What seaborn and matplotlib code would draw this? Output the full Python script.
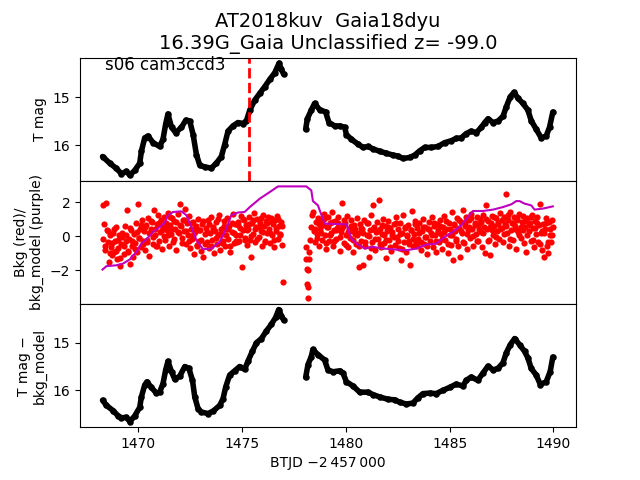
import pandas as pd
import matplotlib
matplotlib.use('Agg')
import matplotlib.pyplot as plt
import seaborn as sns
import numpy as np

# T mag light curve (top panel), two orbits
top_t1 = [1468.29, 1468.64, 1468.96, 1469.20, 1469.44, 1469.60, 1469.84, 1470.08, 1470.16, 1470.32,
          1470.48, 1470.72, 1471.04, 1471.20, 1471.33, 1471.44, 1471.61, 1471.81, 1472.09, 1472.30,
          1472.49, 1472.65, 1472.81, 1472.97, 1473.21, 1473.53, 1473.77, 1474.01, 1474.17, 1474.33,
          1474.57, 1474.81, 1475.05, 1475.22, 1475.38, 1475.62, 1475.86, 1476.10, 1476.34, 1476.58,
          1476.79, 1476.90, 1477.01]
top_m1 = [16.24, 16.38, 16.49, 16.60, 16.55, 16.63, 16.53, 16.38, 16.13, 15.85,
          15.81, 15.95, 16.03, 15.88, 15.56, 15.35, 15.63, 15.74, 15.63, 15.48,
          15.50, 15.78, 16.20, 16.42, 16.46, 16.48, 16.38, 16.24, 15.99, 15.71,
          15.60, 15.53, 15.55, 15.49, 15.27, 15.06, 14.92, 14.78, 14.63, 14.49,
          14.29, 14.42, 14.52]
top_t2 = [1478.07, 1478.15, 1478.34, 1478.50, 1478.74, 1479.03, 1479.19, 1479.47, 1479.71, 1479.95,
          1480.03, 1480.27, 1480.59, 1480.83, 1481.07, 1481.31, 1481.63, 1481.95, 1482.27, 1482.51,
          1482.75, 1483.08, 1483.32, 1483.56, 1483.80, 1484.12, 1484.44, 1484.76, 1485.08, 1485.32,
          1485.56, 1485.80, 1486.04, 1486.28, 1486.53, 1486.69, 1486.85, 1487.09, 1487.33, 1487.57,
          1487.73, 1487.92, 1488.10, 1488.29, 1488.53, 1488.77, 1488.93, 1489.17, 1489.41, 1489.65,
          1489.81, 1489.97]
top_m2 = [15.67, 15.45, 15.27, 15.13, 15.26, 15.31, 15.53, 15.60, 15.60, 15.63,
          15.78, 15.88, 15.98, 16.05, 16.03, 16.08, 16.13, 16.17, 16.21, 16.23,
          16.28, 16.26, 16.21, 16.12, 16.05, 16.05, 16.03, 15.95, 15.91, 15.86,
          15.85, 15.76, 15.71, 15.74, 15.63, 15.53, 15.45, 15.53, 15.50, 15.40,
          15.20, 14.99, 14.90, 15.02, 15.13, 15.27, 15.49, 15.67, 15.85, 15.81,
          15.63, 15.31]

# T mag - bkg_model (bottom panel)
bot_t1 = [1468.29, 1468.48, 1468.80, 1469.04, 1469.20, 1469.44, 1469.60, 1469.84, 1470.08, 1470.16,
          1470.32, 1470.43, 1470.64, 1470.88, 1471.04, 1471.20, 1471.33, 1471.44, 1471.61, 1471.77,
          1472.01, 1472.25, 1472.45, 1472.62, 1472.73, 1472.89, 1473.05, 1473.37, 1473.61, 1473.93,
          1474.09, 1474.22, 1474.41, 1474.65, 1474.89, 1475.13, 1475.29, 1475.50, 1475.70, 1475.94,
          1476.18, 1476.42, 1476.63, 1476.77, 1476.90, 1477.01]
bot_m1 = [16.21, 16.32, 16.43, 16.54, 16.58, 16.57, 16.66, 16.54, 16.36, 16.14,
          15.89, 15.82, 15.94, 16.06, 16.04, 15.86, 15.57, 15.39, 15.61, 15.77,
          15.70, 15.50, 15.54, 15.79, 16.14, 16.39, 16.46, 16.49, 16.44, 16.32,
          16.18, 15.93, 15.68, 15.59, 15.50, 15.56, 15.39, 15.18, 15.00, 14.91,
          14.75, 14.61, 14.46, 14.30, 14.43, 14.52]
bot_t2 = [1478.07, 1478.18, 1478.34, 1478.42, 1478.66, 1478.98, 1479.14, 1479.38, 1479.71, 1479.87,
          1480.03, 1480.35, 1480.67, 1481.07, 1481.31, 1481.63, 1482.03, 1482.35, 1482.59, 1482.92,
          1483.23, 1483.47, 1483.72, 1484.04, 1484.36, 1484.68, 1485.00, 1485.32, 1485.64, 1485.80,
          1486.04, 1486.36, 1486.60, 1486.85, 1487.09, 1487.33, 1487.57, 1487.73, 1487.92, 1488.13,
          1488.37, 1488.61, 1488.77, 1488.93, 1489.17, 1489.37, 1489.65, 1489.84, 1489.97]
bot_m2 = [15.73, 15.46, 15.29, 15.14, 15.25, 15.36, 15.57, 15.61, 15.59, 15.64,
          15.82, 15.91, 16.04, 16.04, 16.09, 16.14, 16.19, 16.20, 16.25, 16.29,
          16.27, 16.16, 16.07, 16.06, 16.07, 16.00, 15.94, 15.87, 15.91, 15.79,
          15.72, 15.79, 15.64, 15.49, 15.57, 15.54, 15.42, 15.21, 15.04, 14.91,
          15.04, 15.18, 15.32, 15.54, 15.68, 15.88, 15.82, 15.61, 15.30]

# background model (purple line)
model_t = [1468.29, 1468.48, 1468.96, 1469.28, 1469.60, 1469.92, 1470.16, 1470.40, 1470.72, 1471.04,
           1471.28, 1471.44, 1471.68, 1472.09, 1472.33, 1472.57, 1472.81, 1473.13, 1473.53, 1473.93,
           1474.25, 1474.49, 1474.81, 1475.13, 1475.38, 1475.86, 1476.34, 1476.74, 1478.10, 1478.34,
           1478.42, 1478.66, 1478.98, 1480.03, 1480.27, 1480.51, 1480.91, 1481.31, 1481.79, 1482.43,
           1482.92, 1483.40, 1483.88, 1484.36, 1484.76, 1485.16, 1485.56, 1485.88, 1486.12, 1486.60,
           1487.09, 1487.57, 1487.97, 1488.21, 1488.37, 1488.61, 1488.93, 1489.09, 1489.49, 1489.97]
model_v = [-1.95, -1.75, -1.70, -1.60, -1.36, -0.92, -0.43, -0.19, 0.25, 0.54,
           0.78, 1.23, 1.42, 1.46, 1.23, 0.54, -0.23, -0.76, -0.72, -0.33,
           0.45, 1.23, 1.39, 1.42, 1.71, 2.20, 2.59, 2.92, 2.92, 2.69,
           2.06, 1.81, 0.74, 0.70, -0.13, -0.43, -0.72, -0.62, -0.72, -0.78,
           -0.82, -0.72, -0.49, -0.43, -0.04, 0.25, 0.64, 1.13, 1.48, 1.48,
           1.56, 1.71, 1.87, 2.06, 2.06, 1.91, 1.81, 1.56, 1.62, 1.75]

# background flux (red points)
bkg_t = [
    1468.30, 1468.35, 1468.40, 1468.45, 1468.50, 1468.55, 1468.60, 1468.65, 1468.70, 1468.75,
    1468.80, 1468.85, 1468.90, 1468.95, 1469.00, 1469.05, 1469.10, 1469.15, 1469.20, 1469.25,
    1469.30, 1469.35, 1469.40, 1469.45, 1469.50, 1469.55, 1469.60, 1469.65, 1469.70, 1469.75,
    1469.80, 1469.85, 1469.90, 1469.95, 1470.00, 1470.05, 1470.10, 1470.15, 1470.20, 1470.25,
    1470.30, 1470.35, 1470.40, 1470.45, 1470.50, 1470.55, 1470.60, 1470.65, 1470.70, 1470.75,
    1470.80, 1470.85, 1470.90, 1470.95, 1471.00, 1471.05, 1471.10, 1471.15, 1471.20, 1471.25,
    1471.30, 1471.35, 1471.40, 1471.45, 1471.50, 1471.55, 1471.60, 1471.65, 1471.70, 1471.75,
    1471.80, 1471.85, 1471.90, 1471.95, 1472.00, 1472.05, 1472.10, 1472.15, 1472.20, 1472.25,
    1472.30, 1472.35, 1472.40, 1472.45, 1472.50, 1472.55, 1472.60, 1472.65, 1472.70, 1472.75,
    1472.80, 1472.85, 1472.90, 1472.95, 1473.00, 1473.05, 1473.10, 1473.15, 1473.20, 1473.25,
    1473.30, 1473.35, 1473.40, 1473.45, 1473.50, 1473.55, 1473.60, 1473.65, 1473.70, 1473.75,
    1473.80, 1473.85, 1473.90, 1473.95, 1474.00, 1474.05, 1474.10, 1474.15, 1474.20, 1474.25,
    1474.30, 1474.35, 1474.40, 1474.45, 1474.50, 1474.55, 1474.60, 1474.65, 1474.70, 1474.75,
    1474.80, 1474.85, 1474.90, 1474.95, 1475.00, 1475.05, 1475.10, 1475.15, 1475.20, 1475.25,
    1475.30, 1475.35, 1475.40, 1475.45, 1475.50, 1475.55, 1475.60, 1475.65, 1475.70, 1475.75,
    1475.80, 1475.85, 1475.90, 1475.95, 1476.00, 1476.05, 1476.10, 1476.15, 1476.20, 1476.25,
    1476.30, 1476.35, 1476.40, 1476.45, 1476.50, 1476.55, 1476.60, 1476.65, 1476.70, 1476.75,
    1476.80, 1476.85, 1476.90, 1476.95, 1477.00,
    1478.08, 1478.10, 1478.12, 1478.14, 1478.16, 1478.18, 1478.20, 1478.22, 1478.24,
    1478.28, 1478.32, 1478.36, 1478.40, 1478.45,
    1478.50, 1478.55, 1478.60, 1478.65, 1478.70, 1478.75, 1478.80, 1478.85, 1478.90, 1478.95,
    1479.00, 1479.05, 1479.10, 1479.15, 1479.20, 1479.25, 1479.30, 1479.35, 1479.40, 1479.45,
    1479.50, 1479.55, 1479.60, 1479.65, 1479.70, 1479.75, 1479.80, 1479.85, 1479.90, 1479.95,
    1480.00, 1480.05, 1480.10, 1480.15, 1480.20, 1480.25, 1480.30, 1480.35, 1480.40, 1480.45,
    1480.50, 1480.55, 1480.60, 1480.65, 1480.70, 1480.75, 1480.80, 1480.85, 1480.90, 1480.95,
    1481.00, 1481.05, 1481.10, 1481.15, 1481.20, 1481.25, 1481.30, 1481.35, 1481.40, 1481.45,
    1481.50, 1481.55, 1481.60, 1481.65, 1481.70, 1481.75, 1481.80, 1481.85, 1481.90, 1481.95,
    1482.00, 1482.05, 1482.10, 1482.15, 1482.20, 1482.25, 1482.30, 1482.35, 1482.40, 1482.45,
    1482.50, 1482.55, 1482.60, 1482.65, 1482.70, 1482.75, 1482.80, 1482.85, 1482.90, 1482.95,
    1483.00, 1483.05, 1483.10, 1483.15, 1483.20, 1483.25, 1483.30, 1483.35, 1483.40, 1483.45,
    1483.50, 1483.55, 1483.60, 1483.65, 1483.70, 1483.75, 1483.80, 1483.85, 1483.90, 1483.95,
    1484.00, 1484.05, 1484.10, 1484.15, 1484.20, 1484.25, 1484.30, 1484.35, 1484.40, 1484.45,
    1484.50, 1484.55, 1484.60, 1484.65, 1484.70, 1484.75, 1484.80, 1484.85, 1484.90, 1484.95,
    1485.00, 1485.05, 1485.10, 1485.15, 1485.20, 1485.25, 1485.30, 1485.35, 1485.40, 1485.45,
    1485.50, 1485.55, 1485.60, 1485.65, 1485.70, 1485.75, 1485.80, 1485.85, 1485.90, 1485.95,
    1486.00, 1486.05, 1486.10, 1486.15, 1486.20, 1486.25, 1486.30, 1486.35, 1486.40, 1486.45,
    1486.50, 1486.55, 1486.60, 1486.65, 1486.70, 1486.75, 1486.80, 1486.85, 1486.90, 1486.95,
    1487.00, 1487.05, 1487.10, 1487.15, 1487.20, 1487.25, 1487.30, 1487.35, 1487.40, 1487.45,
    1487.50, 1487.55, 1487.60, 1487.65, 1487.70, 1487.75, 1487.80, 1487.85, 1487.90, 1487.95,
    1488.00, 1488.05, 1488.10, 1488.15, 1488.20, 1488.25, 1488.30, 1488.35, 1488.40, 1488.45,
    1488.50, 1488.55, 1488.60, 1488.65, 1488.70, 1488.75, 1488.80, 1488.85, 1488.90, 1488.95,
    1489.00, 1489.05, 1489.10, 1489.15, 1489.20, 1489.25, 1489.30, 1489.35, 1489.40, 1489.45,
    1489.50, 1489.55, 1489.60, 1489.65, 1489.70, 1489.75, 1489.80, 1489.85, 1489.90, 1489.95,
    1490.00]
bkg_v = [
    1.85, 0.72, -0.82, 1.92, 0.38, -0.35, -1.48, 0.05, -0.62, -1.10,
    0.21, -0.95, -0.28, 0.55, -1.35, -0.70, 0.10, -1.72, -0.45, -0.05,
    -1.05, 0.62, -0.30, 1.56, -0.85, -0.15, -1.62, 0.35, -0.55, -1.20,
    0.15, -0.40, 0.78, -0.90, 1.87, -0.10, 0.45, -0.65, 0.95, -0.25,
    0.30, -0.80, 0.65, -0.20, 1.05, -1.15, 0.40, 0.85, -0.45, 1.56,
    0.10, -0.60, 0.70, 1.23, -0.30, 0.25, 0.95, -0.75, 0.55, 1.10,
    -0.20, 0.80, 0.35, 1.35, -0.55, 0.65, 0.15, 1.05, -0.35, 0.90,
    0.45, -0.80, 1.30, 0.20, 1.87, 0.60, -0.10, 0.95, 0.30, 1.60,
    -0.45, 0.75, 0.10, 1.20, -0.70, 0.40, -0.15, 0.85, -1.05, 0.25,
    0.60, -0.50, 1.00, -0.25, 0.35, -0.85, 0.70, -1.20, 0.15, 0.50,
    -0.35, 0.95, -0.70, 0.20, 1.15, -0.20, 0.55, -1.00, 0.30, 0.85,
    -0.45, 0.05, 1.25, -0.80, 0.45, 0.15, -0.30, 0.90, -0.60, 0.40,
    1.05, -0.15, 0.60, -0.95, 0.25, 1.30, -0.40, 0.70, 0.10, -0.35,
    0.85, -0.25, 0.50, 1.20, -1.83, 0.35, 0.95, -0.10, 0.65, -0.50,
    0.40, 1.10, -0.20, -1.20, 0.75, 0.15, 1.35, -0.35, 0.55, 1.00,
    -0.05, 0.80, 0.30, -0.55, 1.25, 0.60, -0.25, 0.90, 0.20, 1.15,
    0.45, -0.40, 1.05, 0.10, 0.70, -0.65, 0.95, 0.30, 1.20, -0.15,
    0.60, 0.05, 0.85, -0.50, -2.70,
    -0.62, -1.36, -1.89, -2.77, -3.64, -2.96, -1.99, -1.36, -0.92,
    -0.23, 0.54, 1.23, 1.42, 0.30,
    -0.35, 0.85, 0.15, 1.05, -0.55, 0.40, 0.95, -0.20, 0.65, 1.30,
    0.05, -0.75, 0.55, 1.15, -0.30, 0.75, 0.20, 1.40, -0.60, 0.35,
    0.90, -0.15, 0.50, 1.10, -0.85, 0.25, 1.95, 0.60, -0.40, 0.80,
    0.10, 1.20, -0.65, 0.45, -0.10, 0.95, 0.30, -0.90, 0.65, 0.15,
    -0.45, 1.05, 0.20, -1.79, 0.70, -0.25, 0.40, -1.70, 0.95, -0.55,
    0.10, 0.75, -1.20, 0.35, 1.25, -0.35, 1.81, 0.55, -0.80, 0.25,
    0.85, -0.15, 2.14, 0.45, -0.65, 0.15, 1.00, -0.40, 0.60, -1.30,
    0.30, 0.90, -0.20, 0.50, -0.85, 0.05, 0.70, -0.50, 1.10, -0.05,
    0.40, -0.70, 0.80, -1.40, 0.20, 1.23, -0.35, 0.55, -0.90, 0.10,
    0.65, -0.25, -1.70, 0.35, 1.48, -0.60, 0.15, 0.90, -0.40, 0.50,
    -0.15, 0.75, -0.80, 0.30, 1.00, -0.45, 0.55, -0.05, -1.05, 0.45,
    0.85, -0.30, 0.20, 1.15, -0.65, 0.60, 0.05, -0.90, 0.70, 0.25,
    -0.35, 0.95, 0.15, -0.75, 0.55, 1.20, -0.20, 0.40, -1.00, 0.80,
    0.10, -0.50, 1.42, -1.40, 0.65, 0.30, -0.15, 1.05, -0.60, 0.50,
    -1.20, 0.85, 0.20, 1.56, -0.40, 0.60, 1.10, -0.75, 0.35, 0.95,
    -0.10, 1.30, 0.45, -0.55, 0.80, 0.15, 1.15, -0.30, 0.70, 1.00,
    0.25, -0.65, 1.25, 0.55, -0.98, 1.81, 0.40, 0.90, -0.20, -1.10,
    0.75, 1.20, 0.05, 0.60, -0.45, 1.05, 0.30, 0.85, -0.15, 1.35,
    0.50, -0.35, 1.10, 0.70, 2.50, 0.20, 0.95, -0.55, 1.40, 0.35,
    0.80, -0.20, 1.15, 0.60, -0.72, 0.95, 0.25, 1.30, 0.45, -0.10,
    0.85, 1.20, -0.40, 0.55, -0.90, 1.05, 0.30, 0.75, -0.25, 1.25,
    0.50, -0.65, 0.90, 0.15, 1.10, -0.35, 0.65, 1.91, 0.20, -0.80,
    0.70, -1.20, 0.40, 1.05, -0.55, -1.00, 0.85, 0.10, -0.33, 0.95,
    0.54]

# extra background cadences in between
bkg_t_extra = [
    1468.33, 1468.43, 1468.53, 1468.63, 1468.73, 1468.83, 1468.93, 1469.03, 1469.13, 1469.23,
    1469.33, 1469.43, 1469.53, 1469.63, 1469.73, 1469.83, 1469.93, 1470.03, 1470.13, 1470.23,
    1470.33, 1470.43, 1470.53, 1470.63, 1470.73, 1470.83, 1470.93, 1471.03, 1471.13, 1471.23,
    1471.33, 1471.43, 1471.53, 1471.63, 1471.73, 1471.83, 1471.93, 1472.03, 1472.13, 1472.23,
    1472.33, 1472.43, 1472.53, 1472.63, 1472.73, 1472.83, 1472.93, 1473.03, 1473.13, 1473.23,
    1473.33, 1473.43, 1473.53, 1473.63, 1473.73, 1473.83, 1473.93, 1474.03, 1474.13, 1474.23,
    1474.33, 1474.43, 1474.53, 1474.63, 1474.73, 1474.83, 1474.93, 1475.03, 1475.13, 1475.23,
    1475.33, 1475.43, 1475.53, 1475.63, 1475.73, 1475.83, 1475.93, 1476.03, 1476.13, 1476.23,
    1476.33, 1476.43, 1476.53, 1476.63, 1476.73, 1476.83, 1476.93,
    1478.53, 1478.63, 1478.73, 1478.83, 1478.93, 1479.03, 1479.13, 1479.23, 1479.33, 1479.43,
    1479.53, 1479.63, 1479.73, 1479.83, 1479.93, 1480.03, 1480.13, 1480.23, 1480.33, 1480.43,
    1480.53, 1480.63, 1480.73, 1480.83, 1480.93, 1481.03, 1481.13, 1481.23, 1481.33, 1481.43,
    1481.53, 1481.63, 1481.73, 1481.83, 1481.93, 1482.03, 1482.13, 1482.23, 1482.33, 1482.43,
    1482.53, 1482.63, 1482.73, 1482.83, 1482.93, 1483.03, 1483.13, 1483.23, 1483.33, 1483.43,
    1483.53, 1483.63, 1483.73, 1483.83, 1483.93, 1484.03, 1484.13, 1484.23, 1484.33, 1484.43,
    1484.53, 1484.63, 1484.73, 1484.83, 1484.93, 1485.03, 1485.13, 1485.23, 1485.33, 1485.43,
    1485.53, 1485.63, 1485.73, 1485.83, 1485.93, 1486.03, 1486.13, 1486.23, 1486.33, 1486.43,
    1486.53, 1486.63, 1486.73, 1486.83, 1486.93, 1487.03, 1487.13, 1487.23, 1487.33, 1487.43,
    1487.53, 1487.63, 1487.73, 1487.83, 1487.93, 1488.03, 1488.13, 1488.23, 1488.33, 1488.43,
    1488.53, 1488.63, 1488.73, 1488.83, 1488.93, 1489.03, 1489.13, 1489.23, 1489.33, 1489.43,
    1489.53, 1489.63, 1489.73, 1489.83, 1489.93]
bkg_v_extra = [
    -0.15, -0.60, 0.30, -1.00, -0.40, 0.45, -0.85, -0.20, -1.25, 0.20,
    -0.55, 0.05, -0.95, 0.50, -0.30, -0.75, 0.25, -0.10, 0.65, -0.45,
    0.55, -0.35, 0.20, 0.90, -0.05, 0.45, -0.55, 0.75, 0.35, 0.00,
    0.60, 0.10, 1.15, 0.40, -0.15, 0.85, 0.25, 0.65, -0.40, 0.95,
    0.30, -0.30, 0.80, 0.05, 0.50, -0.60, 0.35, -0.20, 0.90, -0.45,
    0.25, 0.70, -0.55, 0.40, -0.10, 1.00, 0.15, -0.40, 0.60, 0.05,
    0.45, -0.55, 0.80, 0.20, -0.30, 0.65, 0.05, 1.00, -0.20, 0.35,
    0.70, 0.00, 0.95, 0.40, -0.15, 0.55, 1.05, 0.25, -0.35, 0.75,
    0.20, 0.85, -0.20, 0.50, 1.00, 0.15, 0.60,
    0.45, -0.10, 0.70, 0.20, 1.00, -0.40, 0.55, 0.10, 0.85, -0.25,
    0.35, 0.75, -0.05, 0.50, 0.95, -0.50, 0.25, 0.60, -0.20, 0.40,
    0.05, -0.60, 0.50, 0.20, -0.35, 0.80, 0.00, -0.70, 0.45, -0.15,
    0.30, -0.45, 0.65, 0.10, -0.20, 0.55, -0.65, 0.25, -0.05, 0.75,
    -0.30, 0.15, -0.75, 0.50, 0.00, -0.45, 0.35, -0.15, 0.70, -0.60,
    0.20, -0.35, 0.55, -0.05, -0.60, 0.40, 0.10, 0.80, -0.25, 0.35,
    0.60, -0.15, 0.25, 0.90, -0.45, 0.45, 0.05, 0.70, -0.30, 0.95,
    0.30, -0.35, 0.75, 0.15, 0.55, 1.05, 0.00, 0.65, -0.25, 0.40,
    0.85, 0.20, 1.00, -0.30, 0.55, 0.35, 1.15, -0.05, 0.70, 0.45,
    0.95, 0.15, 0.60, 1.25, -0.15, 0.75, 0.40, 1.05, 0.10, 0.55,
    0.35, 0.90, 0.05, 0.65, 1.10, -0.20, 0.50, 0.80, -0.45, 0.30,
    0.20, 0.75, -0.35, 0.45, 0.10]

disc_t = 1475.33
title = 'AT2018kuv  Gaia18dyu\n16.39G_Gaia Unclassified z= -99.0'
sector_label = 's06 cam3ccd3'

top_df = pd.DataFrame({'t': top_t1 + top_t2, 'mag': top_m1 + top_m2,
                       'seg': [1] * len(top_t1) + [2] * len(top_t2)})
bot_df = pd.DataFrame({'t': bot_t1 + bot_t2, 'mag': bot_m1 + bot_m2,
                       'seg': [1] * len(bot_t1) + [2] * len(bot_t2)})
bkg_df = pd.DataFrame({'t': bkg_t + bkg_t_extra, 'bkg': bkg_v + bkg_v_extra})
model_df = pd.DataFrame({'t': model_t, 'bkg': model_v})

fig, (ax1, ax2, ax3) = plt.subplots(3, 1, sharex=True, figsize=(6.4, 4.8), dpi=100)
fig.subplots_adjust(hspace=0)

# top: light curve
sns.lineplot(data=top_df, x='t', y='mag', units='seg', estimator=None, color='k',
             lw=4, solid_capstyle='round', solid_joinstyle='round', ax=ax1)
sns.scatterplot(data=top_df, x='t', y='mag', color='k', s=22, linewidth=0, ax=ax1)
ax1.axvline(disc_t, color='r', ls='--', lw=2)
ax1.invert_yaxis()
ax1.set_ylabel('T mag')
ax1.set_title(title, fontsize=14)
ax1.text(0.05, 0.9, sector_label, transform=ax1.transAxes, fontsize=12)

# middle: background and model
sns.scatterplot(data=bkg_df, x='t', y='bkg', color='r', s=20, linewidth=0, ax=ax2)
sns.lineplot(data=model_df, x='t', y='bkg', color='m', lw=1.5, ax=ax2)
ax2.set_ylabel('Bkg (red)/\nbkg_model (purple)')

# bottom: corrected light curve
sns.lineplot(data=bot_df, x='t', y='mag', units='seg', estimator=None, color='k',
             lw=4, solid_capstyle='round', solid_joinstyle='round', ax=ax3)
sns.scatterplot(data=bot_df, x='t', y='mag', color='k', s=22, linewidth=0, ax=ax3)
ax3.invert_yaxis()
ax3.set_ylabel('T mag \u2212\nbkg_model')
ax3.set_xlabel('BTJD \u22122\u2009457\u2009000')

plt.savefig('out.png', dpi=100)
